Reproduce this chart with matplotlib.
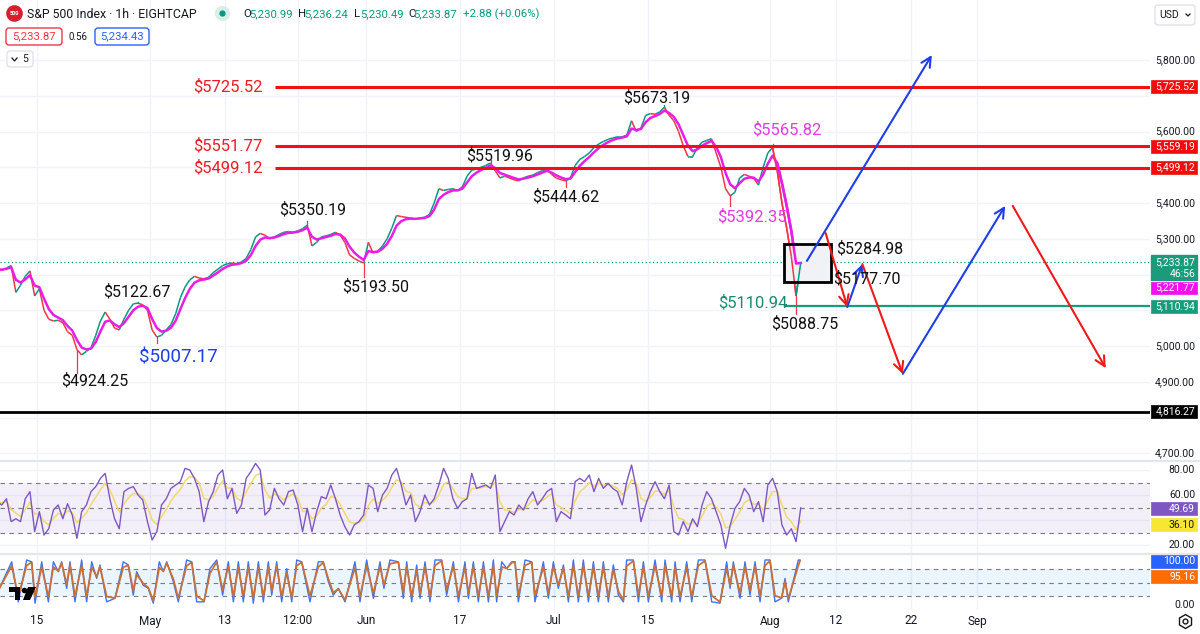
import numpy as np
import pandas as pd
import matplotlib
matplotlib.use("Agg")
import matplotlib.pyplot as plt
import matplotlib.transforms as mtransforms
from matplotlib.patches import Rectangle, FancyBboxPatch, Polygon
from matplotlib.lines import Line2D
from matplotlib.collections import LineCollection

# ---------------- data (x = trading-day index, 0 = Apr 15) ----------------
start_day = -4.25
step_day = 0.5

close_prices = [
    5215, 5212, 5218, 5225, 5150, 5170, 5195, 5210,
    5140, 5160, 5100, 5075, 5070, 5072, 5065, 5040,
    5030, 4990, 4975, 4985, 4995, 5030, 5070, 5095,
    5075, 5050, 5045, 5075, 5100, 5118, 5120, 5115,
    5100, 5045, 5025, 5030, 5045, 5060, 5090, 5135,
    5165, 5185, 5195, 5190, 5188, 5192, 5205, 5215,
    5225, 5230, 5232, 5230, 5235, 5245, 5270, 5305,
    5315, 5310, 5300, 5305, 5312, 5318, 5320, 5318,
    5322, 5328, 5338, 5280, 5290, 5305, 5308, 5312,
    5318, 5310, 5290, 5255, 5245, 5238, 5232, 5290,
    5260, 5265, 5280, 5300, 5330, 5365, 5362, 5360,
    5358, 5355, 5358, 5360, 5368, 5400, 5440, 5435,
    5438, 5440, 5435, 5445, 5475, 5492, 5495, 5500,
    5505, 5512, 5490, 5470, 5475, 5470, 5465, 5462,
    5470, 5475, 5478, 5485, 5490, 5495, 5480, 5470,
    5465, 5462, 5470, 5505, 5522, 5530, 5540, 5555,
    5565, 5572, 5578, 5582, 5585, 5585, 5590, 5630,
    5600, 5610, 5645, 5650, 5648, 5655, 5668, 5645,
    5630, 5600, 5560, 5530, 5530, 5555, 5570, 5575,
    5580, 5540, 5500, 5440, 5420, 5430, 5470, 5480,
    5475, 5470, 5450, 5500, 5540, 5555, 5490, 5400,
    5330, 5250, 5140, 5233.87,
]

rsi_values = [
    54.7, 52, 57, 38.7, 41, 38.7, 57, 62.7, 30.7, 46.7,
    28, 33, 48, 52, 41, 53, 44, 25.3, 46.7, 52,
    62.7, 66.7, 73.3, 77.3, 57, 41, 33, 62.7, 65.3, 66.7,
    60, 56, 38.7, 24, 30.7, 52, 57, 65.3, 68, 70.7,
    81.3, 80, 73.3, 62.7, 38.7, 54.7, 62.7, 76, 80, 57,
    65.3, 45.3, 52, 73.3, 78.7, 85.3, 80, 44, 48, 65.3,
    57, 52, 62.7, 64, 52, 30.7, 49.3, 30.7, 46.7, 58.7,
    57, 68, 57, 44, 34.7, 28, 36, 38.7, 44, 68,
    65.3, 46.7, 60, 65.3, 76, 81.3, 68, 52,
    60, 38.7, 46.7, 60, 52, 57, 68, 81.3, 73.3, 57,
    49.3, 54.7, 57, 77.3, 65.3, 66.7, 68, 65.3, 76, 30.7,
    38.7, 46.7, 44, 52, 48, 57, 62.7, 52, 57, 62.7,
    65.3, 38.7, 46.7, 44, 41, 70.7, 73.3, 70.7, 76, 62.7,
    73.3, 65.3, 69.3, 65.3, 62.7, 52, 70.7, 84, 65.3, 38.7,
    52, 62.7, 70.7, 62.7, 57, 68, 30.7, 28, 38.7, 30.7,
    41, 34.7, 52, 62.7, 57, 46.7, 36, 17.3, 36, 49.3,
    54.7, 65.3, 60, 46.7, 54.7, 38.7, 68, 73.3, 62.7, 36,
    28, 33, 22.7, 49.69,
]

stoch_days = [
    -4.0, -2.69, -1.99, -1.10, -0.57, -0.21, 0.50, 1.21, 1.74, 2.27,
    2.62, 3.16, 3.51, 4.04, 4.75, 5.28, 5.82, 6.35, 6.70, 7.41,
    8.30, 9.18, 9.71, 10.24, 10.60, 11.31, 11.84, 12.37, 13.01, 13.44,
    13.80, 14.50, 15.03, 15.92, 16.46, 16.99, 17.77, 18.40, 19.12, 19.75,
    20.35, 20.89, 21.42, 21.95, 22.48, 23.01, 23.55, 24.08, 24.61, 24.97,
    25.50, 26.03, 26.56, 27.10, 27.63, 28.16, 29.04, 29.93, 30.46, 30.99,
    31.52, 32.06, 32.77, 33.83, 34.36, 35.07, 35.78, 36.49, 36.91, 37.55,
    38.44, 38.97,
    39.33, 39.86, 40.39, 40.75, 41.28, 41.81, 42.34, 43.05, 43.58, 44.29,
    44.83, 45.53, 45.89, 46.42, 46.95, 47.49, 48.02, 48.55, 48.90, 49.44,
    49.97, 50.50, 50.85, 51.21, 51.92, 52.63, 52.98, 53.87, 54.40, 54.93,
    55.46, 56.00, 56.53, 57.06, 57.59, 58.12, 58.66, 59.19, 59.72, 60.25,
    60.78, 61.31, 61.85, 62.38, 62.73, 63.44, 63.98, 64.51, 65.04, 65.75,
    66.46, 66.81, 67.52, 67.88, 68.41, 69.12, 69.65, 70.36, 71.07, 71.78,
    72.66, 73.37, 73.73, 74.08, 74.79, 75.32, 75.85, 76.39, 76.92, 77.45,
    77.98, 78.51, 79.22, 79.58, 79.93, 80.99, 81.17,
]
stoch_k = [
    37, 96, 7, 100, 96, 4, 96, 7, 96, 74,
    96, 37, 96, 7, 100, 7, 96, 59, 89, 7,
    15, 96, 89, 22, 74, 44, 37, 4, 96, 74,
    96, 52, 7, 100, 96, 7, 7, 81, 100, 22,
    96, 7, 96, 7, 96, 4, 96, 7, 96, 22,
    96, 7, 81, 7, 100, 96, 7, 96, 96, 52,
    22, 37, 7, 96, 7, 100, 15, 96, 37, 100,
    96, 15,
    96, 7, 89, 15, 96, 7, 100, 100, 22, 96,
    7, 96, 15, 96, 7, 96, 7, 100, 7, 96,
    81, 96, 96, 7, 100, 96, 7, 96, 15, 96,
    37, 89, 7, 100, 7, 100, 7, 96, 7, 96,
    7, 89, 22, 7, 100, 100, 7, 96, 7, 100,
    7, 100, 7, 96, 7, 96, 7, 100, 100, 7,
    4, 96, 37, 96, 15, 96, 22, 96, 7, 100,
    100, 7, 15, 59, 7, 100, 100,
]

wick_days = [4.5, 13.0, 35.0, 56.5, 74.0, 81.0, 11.0, 29.0, 48.5, 67.0, 78.5]
wick_prices = [4924.25, 5007.17, 5193.50, 5444.62, 5392.35, 5088.75,
               5122.67, 5350.19, 5519.96, 5673.19, 5565.82]

tick_days = [0, 12, 20, 27.75, 35, 45, 55, 65, 78, 85, 93, 100]
tick_labels = ["15", "May", "13", "12:00", "Jun", "17", "Jul", "15", "Aug", "12", "22", "Sep"]

price_ticks = [5800, 5700, 5600, 5500, 5400, 5300, 5200, 5100, 5000, 4900, 4800, 4700]
rsi_ticks = [80, 60, 40, 20]
resist_levels = [5725.52, 5559.19, 5499.12]
resist_texts = ["$5725.52", "$5551.77", "$5499.12"]
resist_start_day = 25.3
support_level = 5110.94
support_start_day = 79.6
floor_level = 4816.27
last_close = 5233.87
ma_label_value = 5221.77
rsi_ma_label_value = 36.10
stoch_k_label, stoch_d_label = 100.00, 95.16
box_days = (79.5, 84.5)
box_prices = (5177.70, 5284.98)

proj_blue = [((81.9, 5238), (95.2, 5814)), ((86.2, 5109), (87.8, 5229)),
             ((92.1, 4922), (103.0, 5392))]
proj_red = [((83.9, 5316), (86.2, 5109)), ((87.8, 5229), (92.1, 4922)),
            ((103.8, 5392), (113.7, 4938))]

# annotations: text, day, price, color, size, ha
notes = [
    ("$5673.19", 65.96, 5693.7, "#111111", 11.5, "center"),
    ("$5519.96", 49.26, 5531.5, "#111111", 11.5, "center"),
    ("$5444.62", 56.28, 5416.8, "#111111", 11.5, "center"),
    ("$5350.19", 29.36, 5380.4, "#111111", 11.5, "center"),
    ("$5193.50", 36.06, 5165.0, "#111111", 11.5, "center"),
    ("$5122.67", 10.64, 5151.0, "#111111", 11.5, "center"),
    ("$4924.25", 6.17, 4902.0, "#111111", 11.5, "center"),
    ("$5007.17", 15.0, 4969.0, "#1f3fe0", 13.5, "center"),
    ("$5565.82", 79.8, 5604.0, "#e23ce0", 12, "center"),
    ("$5392.35", 76.06, 5361.0, "#e23ce0", 12, "center"),
    ("$5284.98", 85.0, 5271.0, "#111111", 11.5, "left"),
    ("$5177.70", 84.7, 5187.0, "#111111", 11.5, "left"),
    ("$5088.75", 81.7, 5061.5, "#111111", 11.5, "center"),
    ("$5110.94", 79.8, 5120.0, "#1b8a70", 12, "right"),
]

# ---------------- layout ----------------
W, H = 1200, 634
plt.rcParams['font.family'] = ['Roboto', 'DejaVu Sans']
fig = plt.figure(figsize=(12, 6.34), dpi=100, facecolor="white")
PX = mtransforms.Affine2D().scale(1 / W, -1 / H).translate(0, 1) + fig.transFigure

PLOT_R = 1150
X0 = -37 / 9.4
X1 = (PLOT_R - 37) / 9.4
P_TOP = 5800 + 60 / 0.3575
P_BOT = 5800 - 400 / 0.3575

def p2py(p):
    return (P_TOP - p) / (P_TOP - P_BOT) * 460

def r2py(v):
    return 470 + (80 - v) * 1.25

def s2py(v):
    return 605 - v * 0.45

ax = fig.add_axes([0, 1 - 460 / H, PLOT_R / W, 460 / H])
rax = fig.add_axes([0, 1 - 553 / H, PLOT_R / W, 92 / H])
sax = fig.add_axes([0, 1 - 610 / H, PLOT_R / W, 56 / H])
ax.set_ylim(P_BOT, P_TOP)
rax.set_ylim(80 - (553 - 470) / 1.25, 80 + (470 - 461) / 1.25)
sax.set_ylim(-5 / 0.45, 51 / 0.45)
GRID = "#f0f3fa"
for a in (ax, rax, sax):
    a.set_xlim(X0, X1)
    a.set_facecolor("none")
    for s in a.spines.values():
        s.set_visible(False)
    a.set_xticks([])
    a.set_yticks([])
    for d in tick_days:
        a.axvline(d, color=GRID, lw=1, zorder=0)
for p in price_ticks:
    ax.axhline(p, color=GRID, lw=1, zorder=0)
for v in rsi_ticks:
    rax.axhline(v, color=GRID, lw=1, zorder=0)

# ---------------- price pane ----------------
days = start_day + step_day * np.arange(len(close_prices))
cp = np.array(close_prices, dtype=float)
GREEN, RED = "#089981", "#f23645"
segs = [[(days[i - 1], cp[i - 1]), (days[i], cp[i])] for i in range(1, len(cp))]
cols = [GREEN if cp[i] >= cp[i - 1] else RED for i in range(1, len(cp))]
ax.add_collection(LineCollection(segs, colors=cols, linewidths=1.1, zorder=3))
for wd, wp in zip(wick_days, wick_prices):
    i = int(np.argmin(np.abs(days - wd)))
    ax.plot([days[i], days[i]], [cp[i], wp], color=RED if wp < cp[i] else GREEN, lw=0.9, zorder=3)
ma = pd.Series(cp).ewm(span=3, adjust=False).mean().values
ax.plot(days, ma, color="#e91ee6", lw=1.8, zorder=4)

ax.axhline(last_close, color=GREEN, lw=0.9, ls=(0, (1, 2)), zorder=2)
for lv, txt in zip(resist_levels, resist_texts):
    ax.plot([resist_start_day, X1], [lv, lv], color="#f21010", lw=2.2, zorder=5, solid_capstyle="butt")
    ax.text(23.95, lv, txt, color="#ee1c25", fontsize=12, ha="right", va="center", zorder=6)
ax.plot([support_start_day, X1], [support_level] * 2, color="#1b9a7c", lw=1.6, zorder=5)
ax.axhline(floor_level, color="black", lw=2.0, zorder=5)

ax.add_patch(Rectangle((box_days[0], box_prices[0]), box_days[1] - box_days[0],
                       box_prices[1] - box_prices[0], fc="#f1f2f6", ec="none", zorder=4.5))
ax.add_patch(Rectangle((box_days[0], box_prices[0]), box_days[1] - box_days[0],
                       box_prices[1] - box_prices[0], fc="none", ec="black", lw=2.0, zorder=7))
ax.add_collection(LineCollection(segs[-6:], colors=cols[-6:], linewidths=1.1, zorder=5))
ax.plot(days[-6:], ma[-6:], color="#e91ee6", lw=1.8, zorder=5.5)

for (a0, a1) in proj_blue:
    ax.annotate("", xy=a1, xytext=a0, zorder=8,
                arrowprops=dict(arrowstyle="->,head_length=0.7,head_width=0.35",
                                color="#1e3fe6", lw=1.5, shrinkA=0, shrinkB=0))
for (a0, a1) in proj_red:
    ax.annotate("", xy=a1, xytext=a0, zorder=8,
                arrowprops=dict(arrowstyle="->,head_length=0.7,head_width=0.35",
                                color="#f01818", lw=1.5, shrinkA=0, shrinkB=0))

for txt, d, p, c, fs, ha in notes:
    ax.text(d, p, txt, color=c, fontsize=fs, ha=ha, va="center", zorder=9)

# ---------------- RSI pane ----------------
rsi = pd.Series(rsi_values, dtype=float)
rsi_days = start_day + step_day * np.arange(len(rsi))
rax.axhspan(30, 70, color="#7e57c2", alpha=0.09, lw=0, zorder=0.5)
for v in (70, 50, 30):
    rax.axhline(v, color="#787b86", lw=0.8, ls=(0, (4, 4)), zorder=1)
rax.plot(rsi_days, rsi.values, color="#7e57c2", lw=1.0, zorder=3)
rax.plot(rsi_days, rsi.ewm(span=4, adjust=False).mean().values, color="#f3d870", lw=1.1, zorder=2.5)

# ---------------- Stochastic pane ----------------
k = pd.Series(stoch_k, dtype=float)
sax.axhspan(20, 80, color="#2196f3", alpha=0.09, lw=0, zorder=0.5)
for v in (80, 50, 20):
    sax.axhline(v, color="#787b86", lw=0.8, ls=(0, (4, 4)), zorder=1)
sax.plot(stoch_days, k.values, color="#3b73f0", lw=1.0, zorder=2)
sax.plot(stoch_days, k.ewm(alpha=0.85, adjust=False).mean().values, color="#c8703c", lw=1.3, zorder=3)

# ---------------- pane separators ----------------
for yy in (460.5, 553.5):
    fig.add_artist(Line2D([0, W], [yy, yy], transform=PX, color="#e3e6ec", lw=1.6, zorder=2))

# ---------------- time axis ----------------
for d, lab in zip(tick_days, tick_labels):
    fig.text((37 + 9.4 * d) / W, 1 - 621 / H, lab, ha="center", va="center",
             fontsize=8.5, color="#131722")

# ---------------- price scale ----------------
TXT = "#131722"
boxes = []  # (center y px, height)

def scale_box(yc, label, fc, tc="white", h=13):
    boxes.append((yc, h))
    fig.add_artist(Rectangle((1151, yc - h / 2), 46, h, transform=PX, fc=fc, ec=fc, lw=0.5, zorder=5))
    fig.text(1195, yc, label, transform=PX, ha="right", va="center", fontsize=7.5, color=tc, zorder=6)

for lv in resist_levels:
    scale_box(p2py(lv), f"{lv:,.2f}", "#f20d0d")
scale_box(p2py(support_level), f"{support_level:,.2f}", "#1b9a7c")
scale_box(p2py(floor_level), f"{floor_level:,.2f}", "#000000")
boxes.append((267.5, 25))
fig.add_artist(Rectangle((1151, 255), 46, 25, transform=PX, fc="#1b9a7c", ec="#1b9a7c", zorder=5))
fig.text(1195, 262, f"{last_close:,.2f}", transform=PX, ha="right", va="center", fontsize=7.5, color="white", zorder=6)
fig.text(1195, 274, "46:56", transform=PX, ha="right", va="center", fontsize=7.5, color="white", zorder=6)
scale_box(287.5, f"{ma_label_value:,.2f}", "#f010f0", h=12)
scale_box(r2py(rsi_values[-1]) + 1, f"{rsi_values[-1]:.2f}", "#7e57c2")
scale_box(r2py(rsi_ma_label_value), f"{rsi_ma_label_value:.2f}", "#f7e733", tc="#131722")
scale_box(561, f"{stoch_k_label:.2f}", "#2962ff")
scale_box(576.5, f"{stoch_d_label:.2f}", "#ff6d00")

def free(py):
    return all(abs(py - yc) > h / 2 + 5 for yc, h in boxes)

for p in price_ticks:
    if free(p2py(p)):
        fig.text(1195 / W, 1 - p2py(p) / H, f"{p:,.2f}", ha="right", va="center",
                 fontsize=7.5, color=TXT, zorder=3)
for v in rsi_ticks:
    if free(r2py(v)):
        fig.text(1195 / W, 1 - r2py(v) / H, f"{v:.2f}", ha="right", va="center",
                 fontsize=7.5, color=TXT, zorder=3)
fig.text(1195 / W, 1 - s2py(0) / H, "0.00", ha="right", va="center", fontsize=7.5, color=TXT, zorder=3)

# gear icon
fig.add_artist(Line2D([1185], [621], transform=PX, marker="h", ms=10, mfc="none", mec=TXT, mew=1.0, zorder=5))
fig.add_artist(Line2D([1185], [621], transform=PX, marker="o", ms=3.5, mfc="none", mec=TXT, mew=1.0, zorder=5))

# ---------------- header ----------------
fig.add_artist(Line2D([14], [13], transform=PX, marker="o", ms=12, mfc="#d6202f", mec="none", zorder=5))
fig.text(14, 13.5, "500", transform=PX, ha="center", va="center", fontsize=4, color="white", weight="bold", zorder=6)
fig.text(27, 14, "S&P 500 Index · 1h · EIGHTCAP", transform=PX, ha="left", va="center",
         fontsize=8.8, color=TXT, zorder=6)
fig.add_artist(Line2D([222], [13], transform=PX, marker="o", ms=11, mfc="#d7efe9", mec="none", zorder=5))
fig.add_artist(Line2D([222], [13], transform=PX, marker="o", ms=4.5, mfc="#089981", mec="none", zorder=6))
ohlc = [("O", 243, "5,230.99", 249), ("H", 298, "5,236.24", 304),
        ("L", 354, "5,230.49", 360), ("C", 408, "5,233.87", 413)]
for lt, lx, num, nx in ohlc:
    fig.text(lx, 14, lt, transform=PX, ha="left", va="center", fontsize=8.2, color=TXT, zorder=6)
    fig.text(nx, 14, num, transform=PX, ha="left", va="center", fontsize=8.2, color="#089981", zorder=6)
fig.text(463, 14, "+2.88 (+0.06%)", transform=PX, ha="left", va="center", fontsize=8.2, color="#089981", zorder=6)

fig.add_artist(FancyBboxPatch((6, 28), 56, 17, boxstyle="round,pad=0,rounding_size=3", transform=PX,
                              fc="white", ec="#f23645", lw=1.0, zorder=5))
fig.text(34, 36.5, "5,233.87", transform=PX, ha="center", va="center", fontsize=8.2, color="#f23645", zorder=6)
fig.text(78, 36.5, "0.56", transform=PX, ha="center", va="center", fontsize=7, color=TXT, zorder=6)
fig.add_artist(FancyBboxPatch((95, 28), 54, 17, boxstyle="round,pad=0,rounding_size=3", transform=PX,
                              fc="white", ec="#2962ff", lw=1.0, zorder=5))
fig.text(122, 36.5, "5,234.43", transform=PX, ha="center", va="center", fontsize=8.2, color="#2962ff", zorder=6)
fig.add_artist(FancyBboxPatch((7, 51), 26, 16, boxstyle="round,pad=0,rounding_size=3", transform=PX,
                              fc="white", ec="#e0e3eb", lw=1.0, zorder=5))
fig.add_artist(Line2D([12, 14.5, 17], [58, 61, 58], transform=PX, color=TXT, lw=0.9, zorder=6))
fig.text(25.5, 59.5, "5", transform=PX, ha="center", va="center", fontsize=7.5, color=TXT, zorder=6)

fig.add_artist(FancyBboxPatch((1155, 5), 40, 20, boxstyle="round,pad=0,rounding_size=3", transform=PX,
                              fc="white", ec="#e0e3eb", lw=1.0, zorder=5))
fig.text(1159, 15, "USD", transform=PX, ha="left", va="center", fontsize=7.5, color=TXT, zorder=6)
fig.add_artist(Line2D([1186, 1188, 1190], [14, 16, 14], transform=PX, color=TXT, lw=0.9, zorder=6))

# TradingView logo (bottom-left of stochastic pane)
fig.add_artist(Rectangle((9, 587), 11, 5, transform=PX, fc="black", ec="none", zorder=6))
fig.add_artist(Rectangle((14.5, 587), 5.5, 13, transform=PX, fc="black", ec="none", zorder=6))
fig.add_artist(Line2D([24], [590], transform=PX, marker="o", ms=4, mfc="black", mec="none", zorder=6))
fig.add_artist(Polygon([(28, 587), (36, 587), (30, 600), (23, 600)], closed=True, transform=PX,
                       fc="black", ec="none", zorder=6))

fig.savefig("out.png", dpi=100, facecolor="white")
